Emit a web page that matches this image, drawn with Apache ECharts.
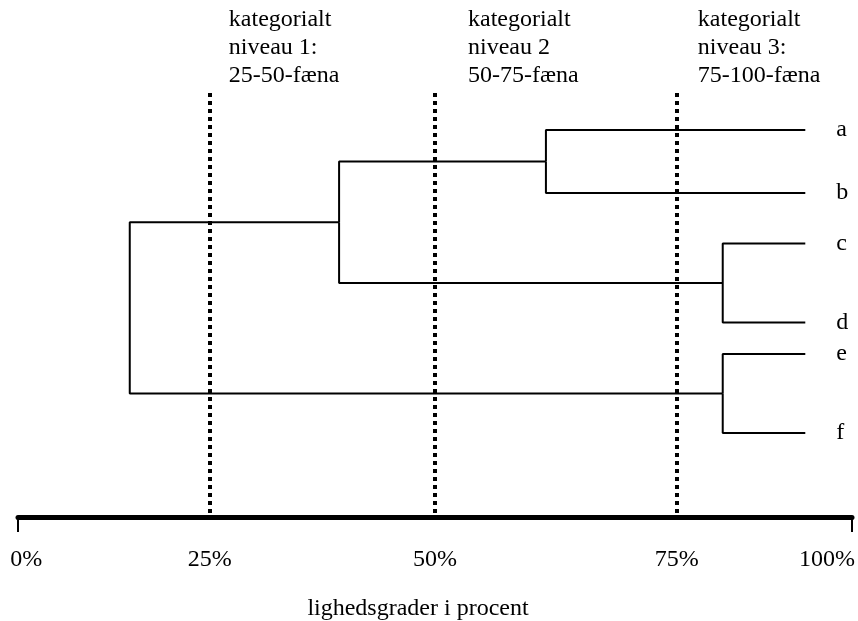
<!DOCTYPE html>
<html>
<head>
<meta charset="utf-8">
<script src="https://cdn.jsdelivr.net/npm/echarts@6/dist/echarts.min.js"></script>
<style>
html,body{margin:0;padding:0;background:#fff;}
#chart{width:858px;height:621px;}
</style>
</head>
<body>
<div id="chart"></div>
<script>
// ---- data ----
const leaves = ['a', 'b', 'c', 'd', 'e', 'f'];
const leafRow = [0, 1, 1.8, 3.05, 3.55, 4.8];          // vertical order of the leaves
const leafEnd = 94.4;                                   // similarity at which leaf lines end
const merges = [                                        // [node, child1, child2, similarity %]
  ['ab', 'a', 'b', 63.3],
  ['cd', 'c', 'd', 84.5],
  ['ef', 'e', 'f', 84.5],
  ['abcd', 'ab', 'cd', 38.5],
  ['root', 'abcd', 'ef', 13.4]
];
const thresholds = [23, 50, 79];                        // dotted level lines
const headerTexts = [
  'kategorialt\nniveau 1:\n25-50-fæna',
  'kategorialt\nniveau 2\n50-75-fæna',
  'kategorialt\nniveau 3:\n75-100-fæna'
];
const tickLabels = ['0%', '25%', '50%', '75%', '100%'];
const tickLabelAt = [1, 23, 50, 79, 97];
const axisTitle = 'lighedsgrader i procent';

// ---- build tree geometry in data units ----
const FONT = '"Liberation Serif", "Times New Roman", serif';
const FS = 24;
const nodes = {};
leaves.forEach((l, i) => { nodes[l] = { x: leafEnd, y: leafRow[i] }; });
const series = [];
merges.forEach(([name, c1, c2, sim]) => {
  const a = nodes[c1], b = nodes[c2];
  nodes[name] = { x: sim, y: (a.y + b.y) / 2 };
  [a, b].forEach(ch => {
    series.push({
      type: 'line', silent: true, symbol: 'none', animation: false,
      lineStyle: { color: '#000', width: 2 },
      data: [[sim, nodes[name].y], [sim, ch.y], [ch.x, ch.y]]
    });
  });
});
// leaf labels + dotted level lines
series.push({
  type: 'scatter', silent: true, symbolSize: 0, animation: false,
  itemStyle: { opacity: 1, color: '#000' },
  data: leaves.map((l, i) => [leafEnd, leafRow[i], l]),
  label: {
    show: true, position: 'right', distance: 31, opacity: 1,
    formatter: p => p.data[2],
    fontFamily: FONT, fontSize: FS, color: '#000'
  },
  markLine: {
    silent: true, symbol: 'none', animation: false,
    label: { show: false },
    lineStyle: { color: '#000', width: 4, type: [4, 4], cap: 'butt', opacity: 1 },
    data: thresholds.map(t => ({ xAxis: t }))
  }
});

const GRID = { left: 18, right: 6, top: 93, bottom: 104, containLabel: false, outerBoundsMode: 'none' };
const chart = echarts.init(document.getElementById('chart'), null, { renderer: 'canvas' });
chart.setOption({
  animation: false,
  backgroundColor: '#fff',
  grid: GRID,
  xAxis: {
    type: 'value', min: 0, max: 100, position: 'bottom',
    axisLine: { show: true, onZero: false, lineStyle: { color: '#000', width: 5 } },
    axisTick: { show: true, customValues: [0, 100], length: 15, lineStyle: { color: '#000', width: 2 } },
    axisLabel: {
      customValues: tickLabelAt,
      formatter: v => tickLabels[tickLabelAt.indexOf(v)],
      margin: 31, fontFamily: FONT, fontSize: FS, color: '#000'
    },
    splitLine: { show: false },
    name: axisTitle, nameLocation: 'middle', nameGap: 80,
    nameTextStyle: { fontFamily: FONT, fontSize: FS, color: '#000', padding: [0, 34, 0, 0] }
  },
  yAxis: {
    type: 'value', inverse: true, min: -0.586, max: 6.131,
    show: false, splitLine: { show: false }
  },
  series: series
});

// header annotations, anchored to the threshold lines
const headerDx = [19, 33, 21];
chart.setOption({
  graphic: thresholds.map((t, i) => ({
    type: 'text',
    x: chart.convertToPixel({ xAxisIndex: 0 }, t) + headerDx[i],
    y: 6,
    silent: true,
    style: { text: headerTexts[i], font: FS + 'px ' + FONT, lineHeight: 28, fill: '#000' }
  }))
});
</script>
</body>
</html>
